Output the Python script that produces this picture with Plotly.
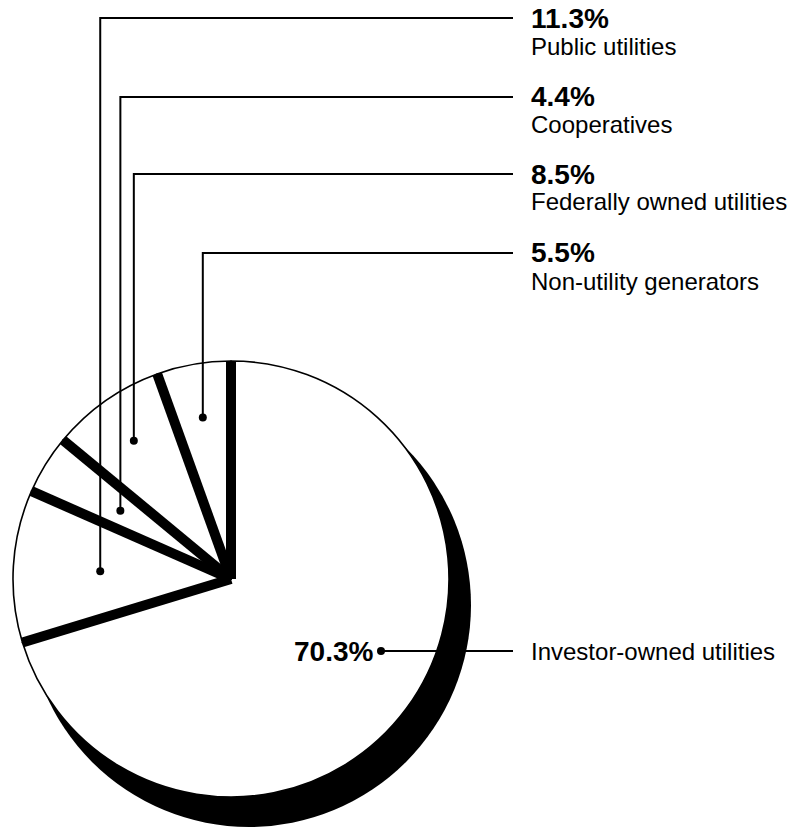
import math
import plotly.graph_objects as go

# ---------------- data ----------------
categories = ["Investor-owned utilities", "Public utilities", "Cooperatives",
              "Federally owned utilities", "Non-utility generators"]
values = [70.3, 11.3, 4.4, 8.5, 5.5]
pct_labels = ["70.3%", "11.3%", "4.4%", "8.5%", "5.5%"]

# ---------------- layout constants (pixels) ----------------
W, H = 792, 830
CX, CY, R = 231.0, 579.0, 218.0          # pie centre / radius
SH_DX, SH_DY, SH_R = 18.0, 26.0, 222.0   # drop shadow
SEP_W = 10                                # black separator band width
ROW_Y = [18, 97, 174, 253]                # label rows for the small slices
NAME_DY = 28
DOT_R = [131, 130, 169, 164]              # radius of leader dots inside slices
DOT_SIZE = 4
LABEL_X = 529
LEADER_END = 513
INV_DOT = (381, 651)
FONT = "Liberation Sans, Arial, Helvetica, sans-serif"


def px(x):
    return x / W


def py(y):
    return 1 - y / H


def dom(cx, cy, r):
    return dict(x=[px(cx - r), px(cx + r)], y=[py(cy + r), py(cy - r)])


total = sum(values)
bounds = [0.0]
for v in values:
    bounds.append(bounds[-1] + 360.0 * v / total)


def polar(r, a_deg):
    a = math.radians(a_deg)
    return CX + r * math.sin(a), CY - r * math.cos(a)


fig = go.Figure()

# shadow
fig.add_trace(go.Pie(values=[total], labels=["shadow"], domain=dom(CX + SH_DX, CY + SH_DY, SH_R),
                     marker=dict(colors=["black"], line=dict(width=0)),
                     textinfo="none", hoverinfo="skip", sort=False, showlegend=False))
# slices
fig.add_trace(go.Pie(values=values, labels=categories, domain=dom(CX, CY, R),
                     marker=dict(colors=["white"] * len(values), line=dict(color="black", width=1.6)),
                     direction="clockwise", rotation=0, sort=False,
                     textinfo="none", hoverinfo="label+percent", showlegend=False))

shapes = []
# separators along each slice boundary
for a in bounds[:-1]:
    x1, y1 = polar(R, a)
    shapes.append(dict(type="line", xref="paper", yref="paper",
                       x0=px(CX), y0=py(CY), x1=px(x1), y1=py(y1),
                       line=dict(color="black", width=SEP_W), layer="above"))

annotations = []
# small slices: leaders + labels
for i in range(1, len(values)):
    mid = (bounds[i] + bounds[i + 1]) / 2
    dx, dy = polar(DOT_R[i - 1], mid)
    ry = ROW_Y[i - 1]
    path = f"M {px(dx)},{py(dy)} L {px(dx)},{py(ry)} L {px(LEADER_END)},{py(ry)}"
    shapes.append(dict(type="path", xref="paper", yref="paper", path=path,
                       line=dict(color="black", width=2), layer="above"))
    shapes.append(dict(type="circle", xref="paper", yref="paper",
                       x0=px(dx - DOT_SIZE), x1=px(dx + DOT_SIZE),
                       y0=py(dy + DOT_SIZE), y1=py(dy - DOT_SIZE),
                       fillcolor="black", line=dict(width=0), layer="above"))
    annotations.append(dict(x=px(LABEL_X), y=py(ry), xref="paper", yref="paper",
                            text=f"<b>{pct_labels[i]}</b>", showarrow=False,
                            xanchor="left", yanchor="middle",
                            font=dict(family=FONT, size=28, color="black")))
    annotations.append(dict(x=px(LABEL_X), y=py(ry + NAME_DY), xref="paper", yref="paper",
                            text=categories[i], showarrow=False,
                            xanchor="left", yanchor="middle",
                            font=dict(family=FONT, size=24, color="black")))

# investor-owned label
ix, iy = INV_DOT
shapes.append(dict(type="line", xref="paper", yref="paper",
                   x0=px(ix), y0=py(iy), x1=px(LEADER_END), y1=py(iy),
                   line=dict(color="black", width=2), layer="above"))
shapes.append(dict(type="circle", xref="paper", yref="paper",
                   x0=px(ix - DOT_SIZE), x1=px(ix + DOT_SIZE),
                   y0=py(iy + DOT_SIZE), y1=py(iy - DOT_SIZE),
                   fillcolor="black", line=dict(width=0), layer="above"))
annotations.append(dict(x=px(ix - 6), y=py(iy), xref="paper", yref="paper",
                        text=f"<b>{pct_labels[0]}</b>", showarrow=False,
                        xanchor="right", yanchor="middle",
                        font=dict(family=FONT, size=28, color="black")))
annotations.append(dict(x=px(LABEL_X), y=py(iy), xref="paper", yref="paper",
                        text=categories[0], showarrow=False,
                        xanchor="left", yanchor="middle",
                        font=dict(family=FONT, size=24, color="black")))

fig.update_layout(width=W, height=H, autosize=False,
                  margin=dict(l=0, r=0, t=0, b=0, pad=0),
                  paper_bgcolor="white", plot_bgcolor="white",
                  shapes=shapes, annotations=annotations, showlegend=False)

fig.write_html("out.html")
